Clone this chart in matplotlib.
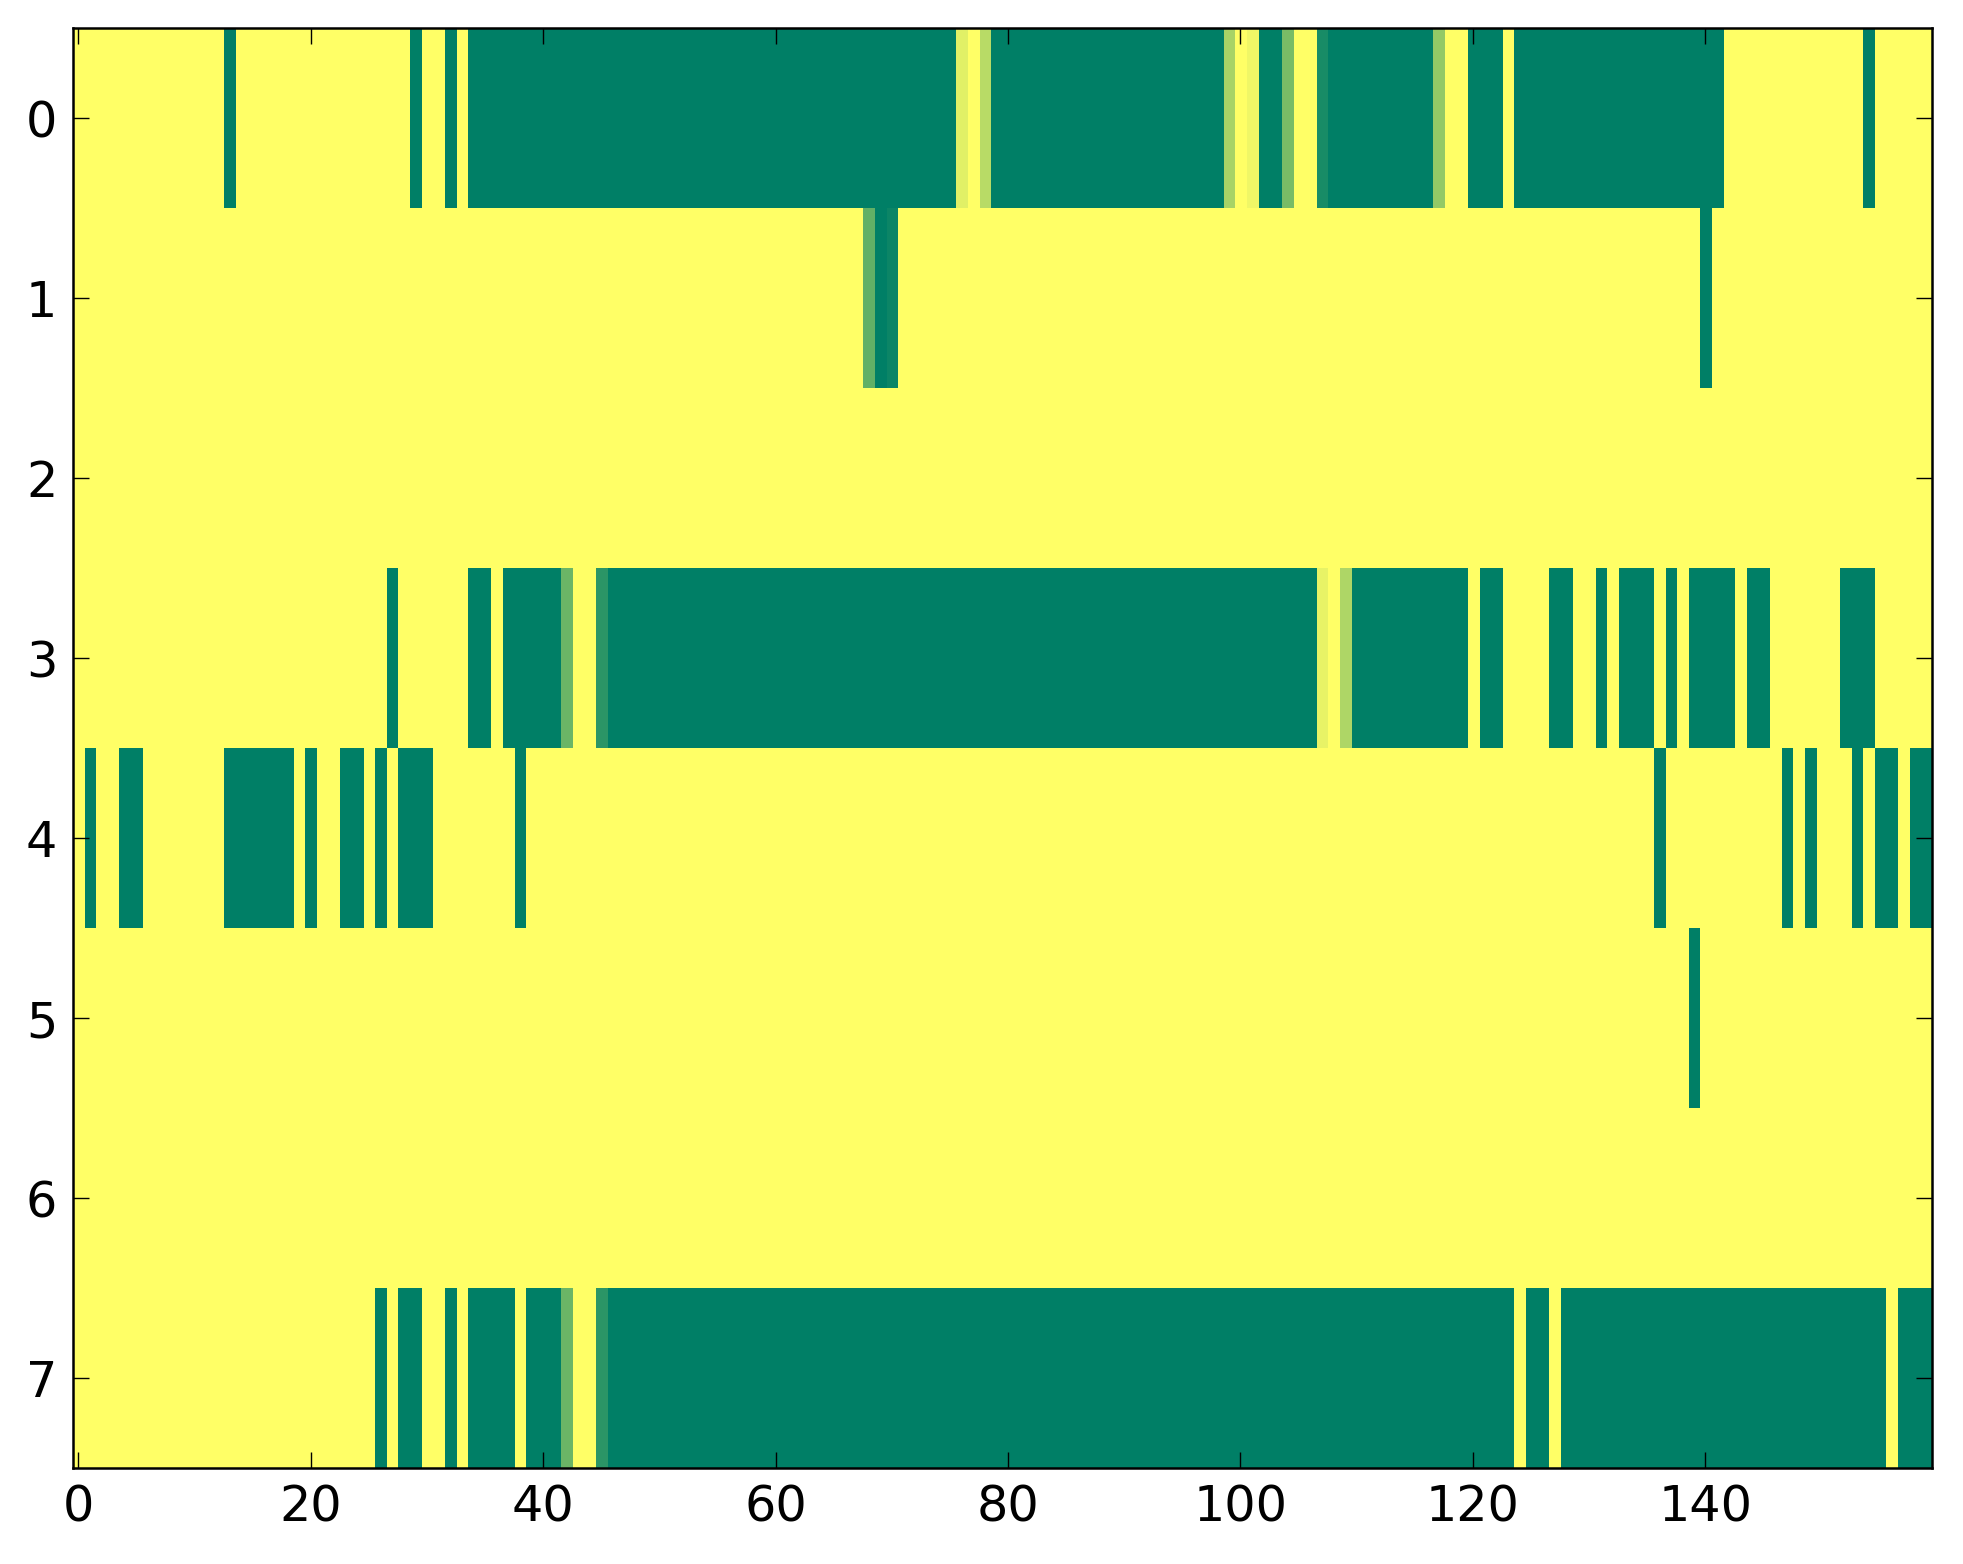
import numpy as np
import matplotlib
matplotlib.use("Agg")
import matplotlib.pyplot as plt

n_cols = 160
n_rows = 8

# runs of cells: (first col, last col, value)
row0 = [(13, 13, 1), (29, 29, 1), (32, 32, 1), (34, 75, 1), (76, 76, 0.12),
        (78, 78, 0.28), (79, 98, 1), (99, 99, 0.34), (101, 101, 0.06),
        (102, 103, 1), (104, 104, 0.52), (107, 107, 0.90), (108, 116, 1),
        (117, 117, 0.42), (120, 122, 1), (124, 141, 1), (154, 154, 1)]
row1 = [(68, 68, 0.62), (69, 69, 1), (70, 70, 0.95), (140, 140, 1)]
row2 = []
row3 = [(27, 27, 1), (34, 35, 1), (37, 41, 1), (42, 42, 0.58), (45, 45, 0.83),
        (46, 106, 1), (107, 107, 0.09), (109, 109, 0.32), (110, 119, 1),
        (121, 122, 1), (127, 128, 1), (131, 131, 1), (133, 135, 1),
        (137, 137, 1), (139, 142, 1), (144, 145, 1), (152, 154, 1)]
row4 = [(1, 1, 1), (4, 5, 1), (13, 18, 1), (20, 20, 1), (23, 24, 1),
        (26, 26, 1), (28, 30, 1), (38, 38, 1), (136, 136, 1), (147, 147, 1),
        (149, 149, 1), (153, 153, 1), (155, 156, 1), (158, 159, 1)]
row5 = [(139, 139, 1)]
row6 = []
row7 = [(26, 26, 1), (28, 29, 1), (32, 32, 1), (34, 37, 1), (39, 41, 1),
        (42, 42, 0.58), (45, 45, 0.83), (46, 123, 1), (125, 126, 1),
        (128, 155, 1), (157, 159, 1)]

rows = [row0, row1, row2, row3, row4, row5, row6, row7]

grid = np.zeros((n_rows, n_cols))
for r, runs in enumerate(rows):
    for a, b, v in runs:
        grid[r, a:b + 1] = v

W, H, DPI = 1963, 1564, 100
fig = plt.figure(figsize=(W / DPI, H / DPI), dpi=DPI)
ax = fig.add_axes([72.5 / W, 1 - 1468 / H, (1932 - 72.5) / W, (1468 - 28) / H])

ax.imshow(grid, cmap="summer_r", vmin=0, vmax=1, aspect="auto",
          interpolation="nearest")

ax.set_xticks(np.arange(0, 141, 20))
ax.set_yticks(np.arange(0, 8))
ax.set_xlim(-0.5, 159.5)
ax.set_ylim(7.5, -0.5)

ax.tick_params(direction="in", top=True, right=True, length=11.5, width=1.0,
               labelsize=35.5, pad=11, colors="black")
for s in ax.spines.values():
    s.set_linewidth(1.8)

fig.savefig("out.png", dpi=DPI)
